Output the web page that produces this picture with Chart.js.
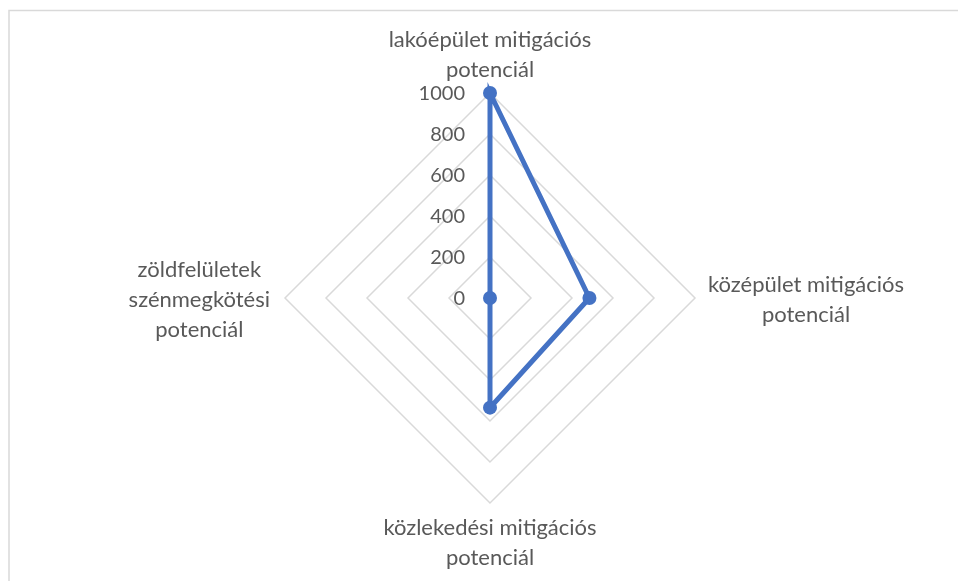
<!DOCTYPE html>
<html>
<head>
<meta charset="utf-8">
<script src="https://cdn.jsdelivr.net/npm/chart.js@4.4.1/dist/chart.umd.min.js"></script>
<style>
  html, body { margin: 0; padding: 0; background: #fff; }
  #wrap { position: relative; width: 958px; height: 581px; }
</style>
</head>
<body>
<div id="wrap"><canvas id="chart" width="958" height="581"></canvas></div>
<script>
// Data
const categories = [
  ['lakóépület mitigációs', 'potenciál'],
  ['középület mitigációs', 'potenciál'],
  ['közlekedési mitigációs', 'potenciál'],
  ['zöldfelületek', 'szénmegkötési', 'potenciál'],
];
const values = [1000, 485, 535, 0];
const tickValues = [0, 200, 400, 600, 800, 1000];

// Styles
const TEXT_COLOR = '#595959';
const GRID_COLOR = '#d9d9d9';
const LINE_COLOR = '#4472c4';
const FONT_FAMILY = 'Lato';
const LABEL_SIZE = 22;
const TICK_SIZE = 20;
const LINE_HEIGHT = 30;

// Draws the frame, the tick labels and the category labels
const excelLabels = {
  id: 'excelLabels',
  beforeDraw(chart) {
    const ctx = chart.ctx;
    ctx.save();
    ctx.strokeStyle = GRID_COLOR;
    ctx.lineWidth = 1.5;
    ctx.strokeRect(9, 10.5, 2000, 2000);
    ctx.restore();
  },
  beforeDatasetsDraw(chart) {
    const ctx = chart.ctx;
    const scale = chart.scales.r;
    ctx.save();
    ctx.fillStyle = TEXT_COLOR;
    ctx.textBaseline = 'middle';

    // tick labels, left of the vertical axis
    ctx.font = `${TICK_SIZE}px ${FONT_FAMILY}`;
    ctx.textAlign = 'right';
    tickValues.forEach((v) => {
      const d = scale.getDistanceFromCenterForValue(v);
      ctx.fillText(String(v), scale.xCenter - 25, scale.yCenter - d + 1);
    });

    // category labels outside the outer ring, lines centred in their block
    ctx.font = `${LABEL_SIZE}px ${FONT_FAMILY}`;
    ctx.textAlign = 'center';
    const outer = scale.drawingArea;
    categories.forEach((lines, i) => {
      const p = scale.getPointPosition(i, outer);
      const n = lines.length;
      const cos = Math.cos(p.angle);
      const sin = Math.sin(p.angle);
      const w = Math.max(...lines.map((l) => ctx.measureText(l).width));
      let x, y0;
      if (Math.abs(cos) < 0.01) {
        x = p.x;
        y0 = sin < 0 ? p.y - 23 - (n - 1) * LINE_HEIGHT : p.y + 25;
      } else {
        x = cos > 0 ? p.x + 13 + w / 2 : p.x - 15 - w / 2;
        y0 = p.y + 2 - (n - 1) * LINE_HEIGHT / 2;
      }
      lines.forEach((line, k) => {
        ctx.fillText(line, x, y0 + LINE_HEIGHT * k);
      });
    });
    ctx.restore();
  },
};

new Chart(document.getElementById('chart'), {
  type: 'radar',
  data: {
    labels: categories,
    datasets: [{
      data: values,
      borderColor: LINE_COLOR,
      backgroundColor: LINE_COLOR,
      borderWidth: 5,
      pointRadius: 7,
      pointBackgroundColor: LINE_COLOR,
      pointBorderWidth: 0,
      fill: false,
      tension: 0,
    }],
  },
  options: {
    responsive: false,
    animation: false,
    devicePixelRatio: 1,
    layout: {
      padding: { left: 285, right: 263, top: 93, bottom: 78 },
    },
    plugins: {
      legend: { display: false },
      tooltip: { enabled: false },
    },
    scales: {
      r: {
        min: 0,
        max: 1000,
        ticks: { stepSize: 200, display: false },
        grid: { color: GRID_COLOR, lineWidth: 1.5 },
        angleLines: { display: false },
        pointLabels: { display: false },
      },
    },
  },
  plugins: [excelLabels],
});
</script>
</body>
</html>
